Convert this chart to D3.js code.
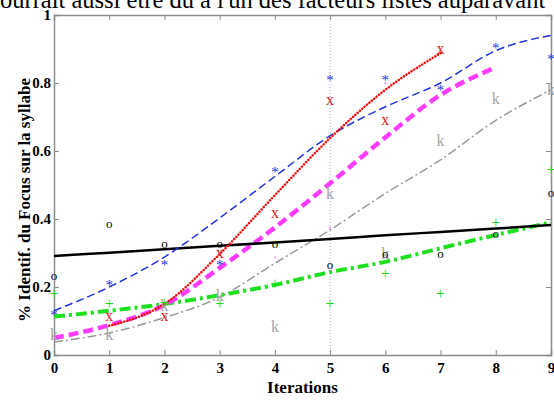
<!DOCTYPE html>
<html lang="fr">
<head>
<meta charset="UTF-8">
<title>Focus</title>
<script src="https://cdn.jsdelivr.net/npm/d3@7"></script>
<style>
  body { margin: 0; background: #fff; }
</style>
</head>
<body>
<div id="chart"></div>
<script>
// iterations on x
var iters = [0, 1, 2, 3, 4, 5, 6, 7, 8, 9];
var xTicks = [0, 1, 2, 3, 4, 5, 6, 7, 8, 9];
var yTicks = [0, 0.2, 0.4, 0.6, 0.8, 1];

// observed points (text markers)
var blueStar = [0.13, 0.218, 0.276, 0.277, 0.55, 0.82, 0.82, 0.79, 0.914, 0.882];
var redX = [null, 0.115, 0.115, 0.30, 0.418, 0.75, 0.69, 0.90, null, null];
var blackO = [0.232, 0.385, 0.326, 0.326, 0.326, 0.265, 0.297, 0.297, 0.356, 0.476];
var greenPlus = [0.18, 0.15, 0.155, 0.15, 0.21, 0.15, 0.238, 0.18, 0.39, 0.544];
var grayK = [0.06, 0.06, 0.147, 0.176, 0.085, 0.476, 0.30, 0.632, 0.756, 0.78];
var magentaDot = [null, null, null, null, 0.29, 0.376, 0.80, null, null, null];

// fitted curves
var blueFit = [0.13, 0.2, 0.288, 0.403, 0.525, 0.645, 0.73, 0.80, 0.895, 0.94];
var redFit = [null, 0.086, 0.15, 0.297, 0.47, 0.638, 0.78, 0.888, null, null];
var magentaFit = [0.05, 0.088, 0.147, 0.256, 0.375, 0.505, 0.64, 0.765, 0.846, null];
var grayFit = [0.038, 0.065, 0.11, 0.17, 0.27, 0.368, 0.475, 0.574, 0.69, 0.78];
var greenFit = [0.113, 0.13, 0.15, 0.176, 0.206, 0.244, 0.274, 0.314, 0.353, 0.39];
var blackFit = [0.291, 0.301, 0.311, 0.321, 0.331, 0.341, 0.352, 0.362, 0.372, 0.382];

var W = 554, H = 401;
var margin = { top: 15, right: 3, bottom: 46, left: 54 };
var serif = '"Liberation Serif", "Times New Roman", "DejaVu Serif", serif';

var svg = d3.select('#chart').append('svg')
  .attr('width', W).attr('height', H)
  .style('font-family', serif);

// cut-off line of the page text above the figure
svg.append('text')
  .attr('x', 0).attr('y', 8)
  .style('font-family', serif)
  .style('font-size', '24.5px')
  .text("ourrait aussi être dû à l'un des facteurs listés auparavant");

var x = d3.scaleLinear().domain([0, 9]).range([margin.left, W - margin.right]);
var y = d3.scaleLinear().domain([0, 1]).range([H - margin.bottom, margin.top]);

// vertical dotted line at iteration 5
svg.append('line')
  .attr('x1', x(5)).attr('x2', x(5))
  .attr('y1', y(0)).attr('y2', y(1))
  .attr('stroke', '#a9a9d8').attr('stroke-width', 1)
  .attr('stroke-dasharray', '1,2');

// axes (ticks inward, box)
var gx = svg.append('g').attr('transform', 'translate(0,' + y(0) + ')')
  .call(d3.axisBottom(x).tickValues(xTicks).tickSize(-5).tickPadding(7).tickFormat(d3.format('d')));
var gxt = svg.append('g').attr('transform', 'translate(0,' + y(1) + ')')
  .call(d3.axisTop(x).tickValues(xTicks).tickSize(-5).tickFormat(''));
var gy = svg.append('g').attr('transform', 'translate(' + x(0) + ',0)')
  .call(d3.axisLeft(y).tickValues(yTicks).tickSize(-5).tickPadding(3).tickFormat(function (d) { return d === 0 || d === 1 ? d : d.toFixed(1); }));
var gyr = svg.append('g').attr('transform', 'translate(' + x(9) + ',0)')
  .call(d3.axisRight(y).tickValues(yTicks).tickSize(-5).tickFormat(''));

[gx, gxt, gy, gyr].forEach(function (g) {
  g.attr('font-family', serif);
  g.select('.domain').attr('stroke', '#8c8c8c').attr('stroke-width', 1.5);
  g.selectAll('.tick line').attr('stroke', '#8c8c8c');
  g.selectAll('.tick text')
    .attr('fill', '#000')
    .style('font-family', serif)
    .style('font-weight', 'bold')
    .style('font-size', '15px');
});
gx.selectAll('.tick text').attr('dy', '0.75em');

// curves
function drawFit(vals, color, width, dash, cap) {
  var pts = iters.map(function (d, i) { return [d, vals[i]]; }).filter(function (p) { return p[1] != null; });
  var line = d3.line()
    .x(function (p) { return x(p[0]); })
    .y(function (p) { return y(p[1]); })
    .curve(d3.curveMonotoneX);
  svg.append('path')
    .attr('d', line(pts))
    .attr('fill', 'none')
    .attr('stroke', color)
    .attr('stroke-width', width)
    .attr('stroke-dasharray', dash)
    .attr('stroke-linecap', cap || 'butt');
}

drawFit(grayFit, '#9a9a9a', 1.5, '9,3,2,3');
drawFit(greenFit, '#1fe01f', 4, '11,4,3,4');
drawFit(magentaFit, '#ff3cff', 4.5, '10,5');
drawFit(blackFit, '#000', 2.5, null);
drawFit(blueFit, '#2233dd', 1.5, '8,4');
drawFit(redFit, '#ee1111', 2.5, '0.1,3', 'round');

// text markers
function drawMarks(vals, ch, color, size, dy) {
  svg.append('g').selectAll('text')
    .data(iters.map(function (d, i) { return [d, vals[i]]; }).filter(function (p) { return p[1] != null; }))
    .enter().append('text')
    .attr('x', function (p) { return x(p[0]); })
    .attr('y', function (p) { return y(p[1]); })
    .attr('dy', dy)
    .attr('text-anchor', 'middle')
    .attr('fill', color)
    .style('font-family', serif)
    .style('font-size', size + 'px')
    .text(ch);
}

drawMarks(magentaDot, '.', '#ff3cff', 12, '0.1em');
drawMarks(grayK, 'k', '#a3a3a3', 16, '0.35em');
drawMarks(greenPlus, '+', '#22dd22', 16, '0.33em');
drawMarks(blackO, 'o', '#000', 13, '0.3em');
drawMarks(redX, 'x', '#e02020', 16, '0.3em');
drawMarks(blueStar, '*', '#2233dd', 15, '0.6em');

// axis labels
svg.append('text')
  .attr('x', (x(0) + x(9)) / 2).attr('y', 393)
  .attr('text-anchor', 'middle')
  .style('font-family', serif)
  .style('font-weight', 'bold')
  .style('font-size', '17px')
  .text('Iterations');

svg.append('text')
  .attr('transform', 'translate(30,' + 200 + ') rotate(-90)')
  .attr('text-anchor', 'middle')
  .style('font-family', serif)
  .style('font-weight', 'bold')
  .style('font-size', '17px')
  .text('% Identif. du Focus sur la syllabe');
</script>
</body>
</html>
